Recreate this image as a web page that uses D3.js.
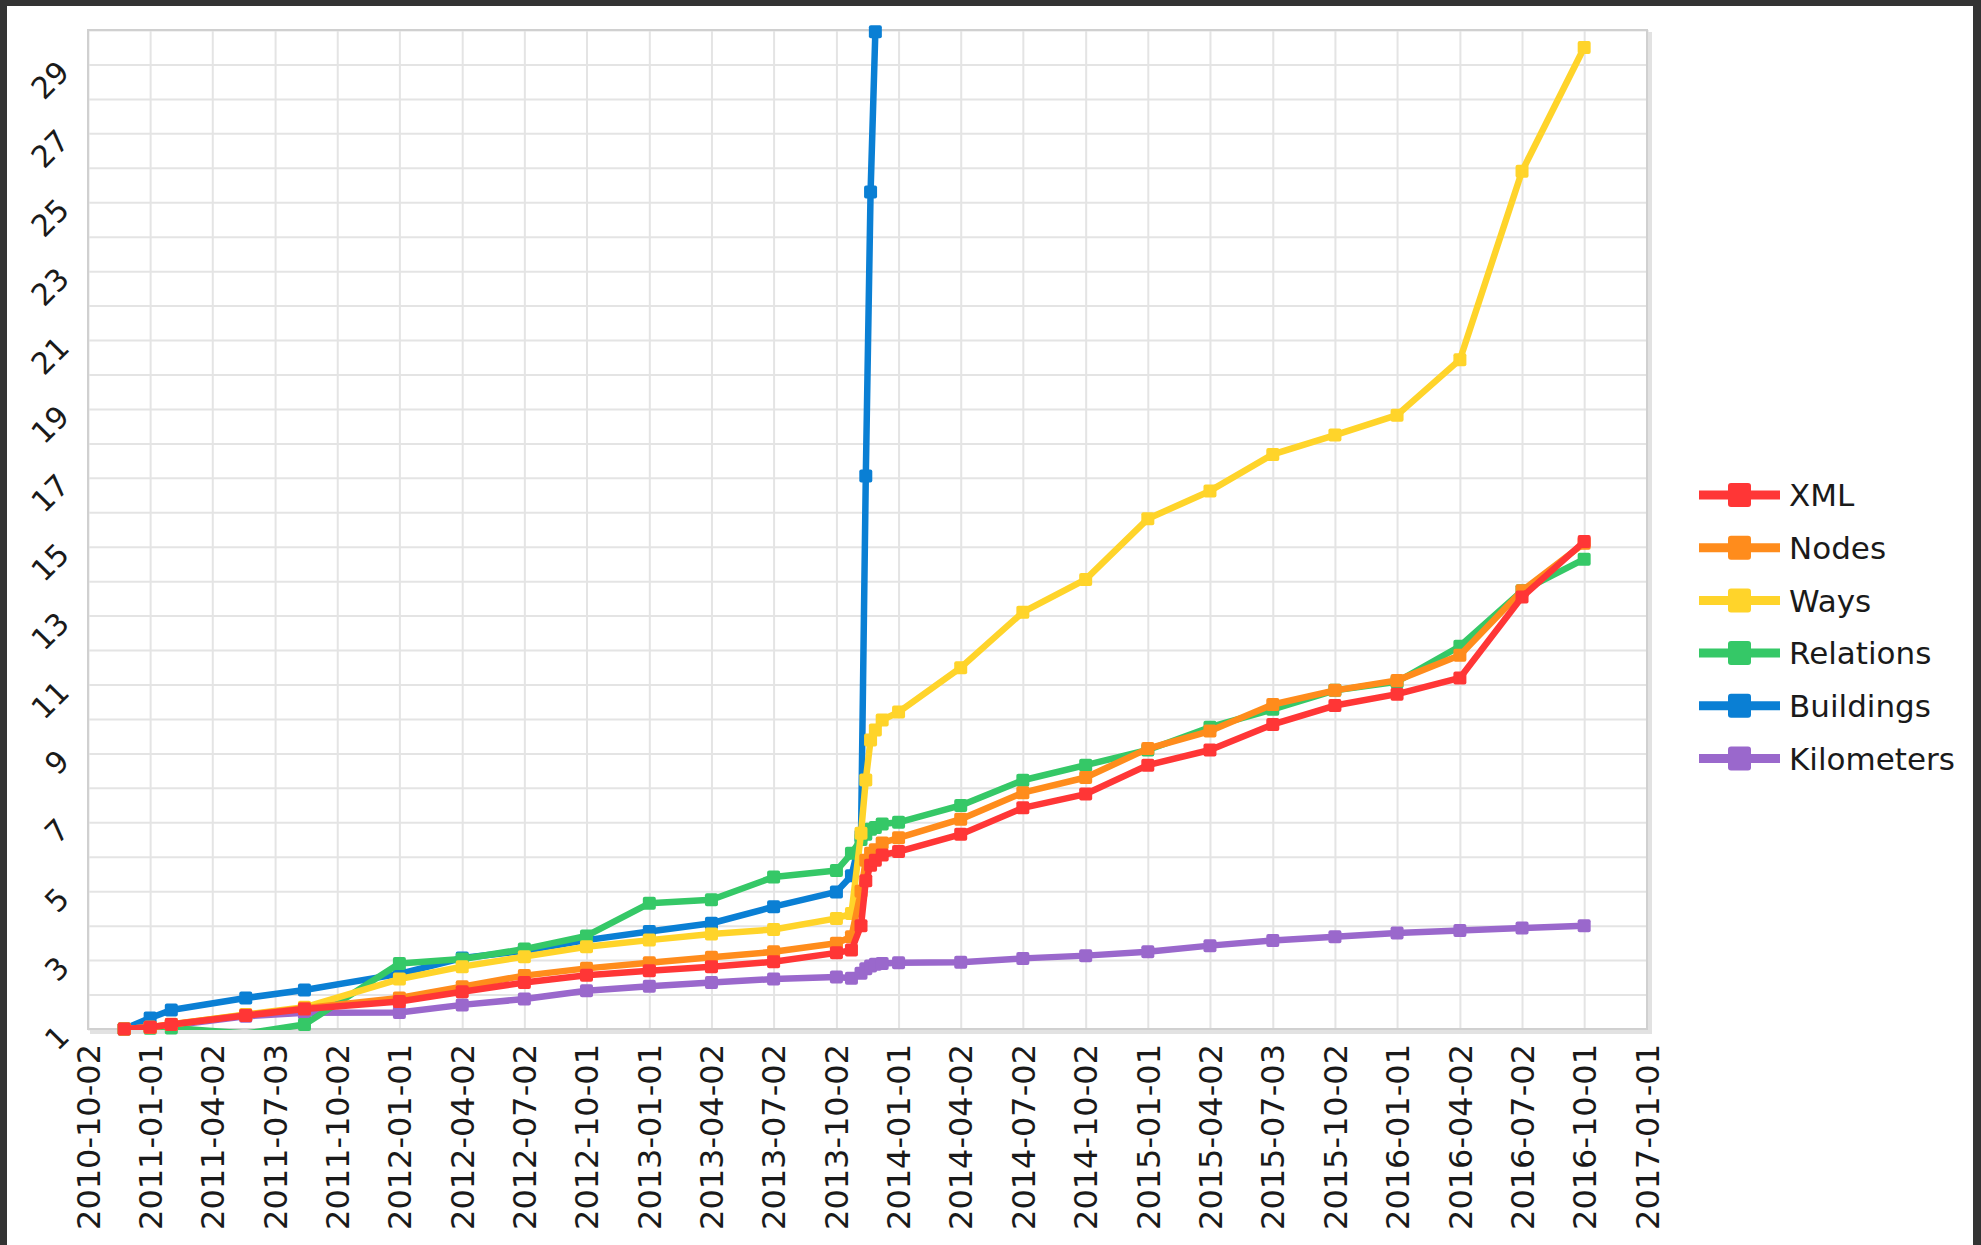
<!DOCTYPE html>
<html>
<head>
<meta charset="utf-8">
<script src="https://cdn.jsdelivr.net/npm/d3@7"></script>
<style>
  body { margin: 0; background: #333333; }
  svg { display: block; }
</style>
</head>
<body>
<div id="chart"></div>
<script>
// sample dates (shared by all series)
var dates = ["2010-11-24", "2011-01-01", "2011-02-01", "2011-05-21", "2011-08-15",
    "2012-01-01", "2012-04-02", "2012-07-02", "2012-10-01", "2013-01-01",
    "2013-04-02", "2013-07-02", "2013-10-02", "2013-10-24", "2013-11-07",
    "2013-11-14", "2013-11-21", "2013-11-28", "2013-12-08", "2014-01-01",
    "2014-04-02", "2014-07-02", "2014-10-02", "2015-01-01", "2015-04-02",
    "2015-07-03", "2015-10-02", "2016-01-01", "2016-04-02", "2016-07-02",
    "2016-10-01"];

var xmlValues = [1.0, 1.05, 1.13, 1.39, 1.58, 1.80, 2.08, 2.35, 2.56, 2.69,
    2.81, 2.95, 3.21, 3.29, 4.0, 5.3, 5.75, 5.9, 6.05, 6.15,
    6.65, 7.42, 7.82, 8.66, 9.1, 9.84, 10.39, 10.72, 11.19, 13.54, 15.15];
var nodeValues = [1.0, 1.05, 1.14, 1.41, 1.60, 1.90, 2.23, 2.55, 2.76, 2.92,
    3.08, 3.24, 3.49, 3.68, 5.0, 5.9, 6.1, 6.2, 6.4, 6.55,
    7.09, 7.86, 8.3, 9.14, 9.65, 10.42, 10.83, 11.12, 11.85, 13.72, 15.1];
var wayValues = [1.0, 1.05, 1.13, 1.42, 1.63, 2.45, 2.81, 3.10, 3.39, 3.58,
    3.76, 3.89, 4.21, 4.35, 6.68, 8.23, 9.39, 9.68, 9.97, 10.2,
    11.49, 13.1, 14.05, 15.81, 16.62, 17.68, 18.24, 18.82, 20.43, 25.9, 29.49];
var relationValues = [1.0, 1.02, 1.03, 0.87, 1.13, 2.90, 3.03, 3.32, 3.70, 4.65,
    4.75, 5.41, 5.60, 6.1, 6.5, 6.65, 6.8, 6.85, 6.95, 7.0,
    7.49, 8.22, 8.66, 9.1, 9.76, 10.28, 10.83, 11.08, 12.11, 13.72, 14.64];
var buildingValues = [1.0, 1.32, 1.55, 1.90, 2.13, 2.6, 3.06, 3.27, 3.58, 3.83,
    4.07, 4.55, 4.98, 5.45, 6.6, 17.05, 25.3, 29.95, null, null,
    null, null, null, null, null, null, null, null, null, null, null];
var kmValues = [1.0, 1.05, 1.10, 1.37, 1.47, 1.48, 1.70, 1.87, 2.11, 2.24,
    2.35, 2.45, 2.51, 2.47, 2.62, 2.75, 2.83, 2.88, 2.90, 2.92,
    2.94, 3.05, 3.13, 3.24, 3.42, 3.57, 3.68, 3.79, 3.86, 3.93, 4.0];

var seriesNames = ["XML", "Nodes", "Ways", "Relations", "Buildings", "Kilometers"];
var seriesColors = ["#ff3636", "#ff8c1c", "#ffd42a", "#35c867", "#0a7fd4", "#9a68cc"];
var seriesValues = [xmlValues, nodeValues, wayValues, relationValues, buildingValues, kmValues];

var xTickLabels = ["2010-10-02", "2011-01-01", "2011-04-02", "2011-07-03", "2011-10-02",
    "2012-01-01", "2012-04-02", "2012-07-02", "2012-10-01", "2013-01-01",
    "2013-04-02", "2013-07-02", "2013-10-02", "2014-01-01", "2014-04-02",
    "2014-07-02", "2014-10-02", "2015-01-01", "2015-04-02", "2015-07-03",
    "2015-10-02", "2016-01-01", "2016-04-02", "2016-07-02", "2016-10-01",
    "2017-01-01"];
var yGridValues = d3.range(1, 31);
var yTickLabels = d3.range(1, 30, 2);

(function () {
    var W = 1981, H = 1245;
    var plotLeft = 88, plotTop = 30, plotRight = 1647, plotBottom = 1029;
    var font = "'DejaVu Sans', sans-serif";
    var parse = d3.timeParse("%Y-%m-%d");

    var svg = d3.select("#chart").append("svg")
        .attr("width", W)
        .attr("height", H);

    // dark frame + white page
    svg.append("rect").attr("width", W).attr("height", H).attr("fill", "#333333");
    svg.append("rect").attr("x", 7).attr("y", 6).attr("width", 1966).attr("height", H - 6).attr("fill", "#ffffff");

    var x = d3.scaleTime()
        .domain([parse(xTickLabels[0]), parse(xTickLabels[xTickLabels.length - 1])])
        .range([plotLeft, plotRight]);
    var y = d3.scaleLinear()
        .domain([1, 30])
        .range([plotBottom, plotTop]);

    var tickDates = xTickLabels.map(parse);

    // grid
    svg.append("g")
        .attr("transform", "translate(0," + plotBottom + ")")
        .call(d3.axisBottom(x).tickValues(tickDates).tickSize(-(plotBottom - plotTop)).tickFormat(""))
        .call(function (g) {
            g.select(".domain").remove();
            g.selectAll("line").attr("stroke", "#e4e4e4").attr("stroke-width", 2);
        });
    svg.append("g")
        .attr("transform", "translate(" + plotLeft + ",0)")
        .call(d3.axisLeft(y).tickValues(yGridValues).tickSize(-(plotRight - plotLeft)).tickFormat(""))
        .call(function (g) {
            g.select(".domain").remove();
            g.selectAll("line").attr("stroke", "#e4e4e4").attr("stroke-width", 2);
        });

    // plot frame with a soft shadow
    svg.append("line").attr("x1", plotRight + 3).attr("x2", plotRight + 3).attr("y1", plotTop + 2).attr("y2", plotBottom + 4)
        .attr("stroke", "#e2e2e2").attr("stroke-width", 4);
    svg.append("line").attr("x1", plotLeft + 2).attr("x2", plotRight + 5).attr("y1", plotBottom + 3).attr("y2", plotBottom + 3)
        .attr("stroke", "#e2e2e2").attr("stroke-width", 4);
    svg.append("rect")
        .attr("x", plotLeft).attr("y", plotTop)
        .attr("width", plotRight - plotLeft).attr("height", plotBottom - plotTop)
        .attr("fill", "none")
        .attr("stroke", "#d0d0d0")
        .attr("stroke-width", 2);

    // x axis labels
    svg.append("g")
        .attr("transform", "translate(0," + plotBottom + ")")
        .call(d3.axisBottom(x).tickValues(tickDates).tickSize(0).tickFormat(d3.timeFormat("%Y-%m-%d")))
        .call(function (g) {
            g.select(".domain").remove();
            g.selectAll("text")
                .attr("x", -15)
                .attr("y", 0)
                .attr("dy", "0.35em")
                .attr("transform", "rotate(-90)")
                .style("text-anchor", "end")
                .style("font-family", font)
                .style("font-size", "32px")
                .attr("fill", "#1a1a1a");
        });

    // y axis labels
    svg.append("g")
        .attr("transform", "translate(" + plotLeft + ",0)")
        .call(d3.axisLeft(y).tickValues(yTickLabels).tickSize(0))
        .call(function (g) {
            g.select(".domain").remove();
            g.selectAll("text")
                .attr("x", 0)
                .attr("y", 0)
                .attr("dy", 0)
                .attr("transform", "translate(-17,9) rotate(-45)")
                .style("text-anchor", "end")
                .style("font-family", font)
                .style("font-size", "30px")
                .attr("fill", "#1a1a1a");
        });

    // lines are cut at the plot edge (a little room above for the spike)
    svg.append("clipPath")
        .attr("id", "plot-clip")
        .append("rect")
        .attr("x", plotLeft).attr("y", plotTop - 20)
        .attr("width", plotRight - plotLeft).attr("height", plotBottom - plotTop + 21);

    var line = d3.line()
        .defined(function (d) { return d.v !== null; })
        .x(function (d) { return x(d.date); })
        .y(function (d) { return y(d.v); });

    // draw last legend entry first so XML ends on top
    for (var s = seriesNames.length - 1; s >= 0; s--) {
        var pts = dates.map(function (d, i) {
            return { date: parse(d), v: seriesValues[s][i] };
        });
        var g = svg.append("g");
        g.append("path")
            .datum(pts)
            .attr("clip-path", "url(#plot-clip)")
            .attr("fill", "none")
            .attr("stroke", seriesColors[s])
            .attr("stroke-width", 6.5)
            .attr("stroke-linejoin", "round")
            .attr("d", line);
        g.selectAll("rect")
            .data(pts.filter(function (d) { return d.v !== null && d.v >= 0.999; }))
            .enter()
            .append("rect")
            .attr("x", function (d) { return x(d.date) - 6.5; })
            .attr("y", function (d) { return y(d.v) - 6.5; })
            .attr("width", 13)
            .attr("height", 13)
            .attr("rx", 2)
            .attr("fill", seriesColors[s]);
    }

    // legend
    var legend = svg.append("g");
    seriesNames.forEach(function (name, i) {
        var ly = 495 + i * 52.7;
        legend.append("line")
            .attr("x1", 1699).attr("x2", 1780)
            .attr("y1", ly).attr("y2", ly)
            .attr("stroke", seriesColors[i])
            .attr("stroke-width", 9);
        legend.append("rect")
            .attr("x", 1728).attr("y", ly - 12)
            .attr("width", 23).attr("height", 24)
            .attr("rx", 3)
            .attr("fill", seriesColors[i]);
        legend.append("text")
            .attr("x", 1789)
            .attr("y", ly)
            .attr("dy", "0.36em")
            .style("font-family", font)
            .style("font-size", "31px")
            .attr("fill", "#1a1a1a")
            .text(name);
    });
})();
</script>
</body>
</html>
